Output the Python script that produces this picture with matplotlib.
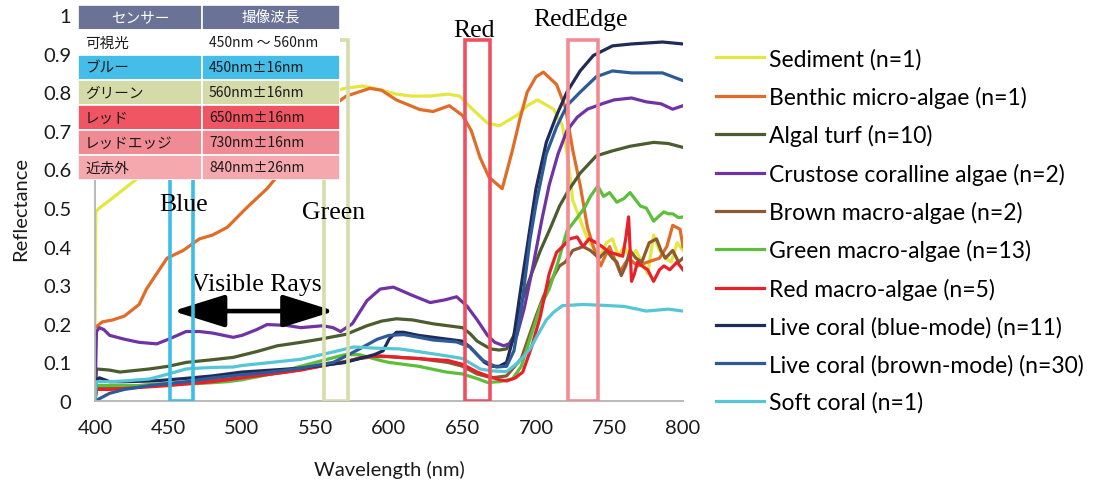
import matplotlib
matplotlib.use("Agg")
import matplotlib.pyplot as plt
from matplotlib.patches import Rectangle

plt.rcParams['font.family'] = ['Lato', 'Noto Sans CJK JP', 'DejaVu Sans']

# ---- spectra (wavelength nm, reflectance) ----
sed_wl = [400, 400.5, 403, 410, 420, 430, 450, 480, 510, 540, 560, 570, 582, 590, 605, 615, 628, 640, 648,
          657, 667, 675, 687, 694, 701, 712, 718, 722, 725, 730, 735, 740, 744, 748, 752, 756, 760, 764,
          768, 772, 776, 780, 784, 788, 792, 796, 800]
sed_r = [0.20, 0.49, 0.50, 0.52, 0.55, 0.58, 0.63, 0.70, 0.75, 0.78, 0.80, 0.81, 0.816, 0.81, 0.795, 0.79,
         0.79, 0.795, 0.79, 0.755, 0.72, 0.713, 0.74, 0.765, 0.78, 0.756, 0.713, 0.62, 0.52, 0.47, 0.42,
         0.39, 0.38, 0.41, 0.42, 0.375, 0.40, 0.37, 0.39, 0.36, 0.33, 0.43, 0.39, 0.37, 0.36, 0.41, 0.39]

bma_wl = [400, 405, 412, 420, 430, 435, 449, 460, 471, 480, 490, 503, 517, 530, 540, 550, 560, 571, 587,
          595, 605, 621, 630, 641, 650, 656, 662, 668, 677, 684, 689, 694, 700, 705, 714, 720, 725, 730,
          735, 739, 744, 750, 757, 763, 769, 776, 784, 789, 793, 798, 800]
bma_r = [0.19, 0.205, 0.21, 0.22, 0.25, 0.29, 0.37, 0.39, 0.42, 0.43, 0.45, 0.50, 0.55, 0.61, 0.66, 0.72,
         0.76, 0.79, 0.81, 0.805, 0.78, 0.755, 0.75, 0.765, 0.74, 0.70, 0.63, 0.58, 0.55, 0.65, 0.73, 0.80,
         0.84, 0.852, 0.82, 0.76, 0.65, 0.56, 0.45, 0.40, 0.35, 0.40, 0.335, 0.37, 0.35, 0.36, 0.37, 0.40,
         0.455, 0.445, 0.40]

turf_wl = [400, 401, 410, 417, 437, 450, 462, 480, 494, 510, 524, 540, 553, 571, 585, 595, 605, 616, 630,
           640, 650, 655, 660, 669, 675, 680, 685, 691, 697, 703, 710, 716, 722, 730, 741, 752, 764, 780,
           790, 800]
turf_r = [0.0, 0.083, 0.08, 0.075, 0.083, 0.09, 0.10, 0.107, 0.113, 0.128, 0.143, 0.152, 0.16, 0.173,
          0.195, 0.207, 0.213, 0.21, 0.2, 0.195, 0.19, 0.175, 0.155, 0.135, 0.132, 0.135, 0.17, 0.265, 0.33,
          0.39, 0.45, 0.505, 0.545, 0.59, 0.635, 0.648, 0.66, 0.67, 0.667, 0.657]

cca_wl = [400, 401, 403, 406, 410, 420, 430, 442, 450, 462, 471, 480, 494, 500, 510, 517, 530, 540, 555,
          562, 567, 575, 585, 594, 603, 615, 628, 638, 646, 653, 660, 667, 672, 678, 683, 687, 692, 698,
          704, 709, 715, 721, 728, 735, 745, 753, 765, 775, 785, 793, 800]
cca_r = [0.0, 0.18, 0.19, 0.185, 0.17, 0.16, 0.152, 0.148, 0.16, 0.18, 0.18, 0.176, 0.165, 0.17, 0.185,
         0.198, 0.196, 0.19, 0.195, 0.19, 0.18, 0.20, 0.26, 0.29, 0.295, 0.275, 0.255, 0.262, 0.27, 0.246,
         0.21, 0.17, 0.152, 0.143, 0.15, 0.17, 0.24, 0.35, 0.47, 0.56, 0.64, 0.70, 0.735, 0.756, 0.77,
         0.78, 0.785, 0.775, 0.77, 0.756, 0.765]

brm_wl = [400, 401, 430, 450, 470, 500, 530, 560, 580, 590, 600, 620, 640, 650, 660, 670, 680, 690, 700,
          705, 710, 716, 720, 725, 732, 737, 743, 748, 752, 755, 758, 761, 764, 768, 772, 777, 782, 785,
          788, 793, 797, 800]
brm_r = [0.0, 0.035, 0.04, 0.045, 0.05, 0.06, 0.075, 0.095, 0.11, 0.115, 0.115, 0.11, 0.10, 0.09, 0.07,
         0.06, 0.065, 0.11, 0.22, 0.27, 0.31, 0.35, 0.36, 0.39, 0.40, 0.39, 0.37, 0.39, 0.37, 0.36, 0.325,
         0.35, 0.39, 0.37, 0.36, 0.41, 0.42, 0.39, 0.37, 0.39, 0.36, 0.37]

grm_wl = [400, 401, 410, 430, 450, 470, 490, 500, 520, 540, 560, 570, 580, 594, 600, 610, 620, 639, 650,
          660, 667, 675, 684, 690, 695, 703, 709, 715, 721, 727, 733, 737, 742, 746, 750, 755, 760, 764,
          768, 771, 775, 778, 780, 784, 787, 790, 793, 797, 800]
grm_r = [0.0, 0.04, 0.04, 0.04, 0.045, 0.045, 0.05, 0.055, 0.07, 0.09, 0.11, 0.12, 0.12, 0.105, 0.10,
         0.095, 0.09, 0.075, 0.07, 0.058, 0.048, 0.05, 0.057, 0.09, 0.15, 0.245, 0.29, 0.36, 0.44, 0.47,
         0.50, 0.53, 0.557, 0.53, 0.54, 0.515, 0.525, 0.54, 0.52, 0.505, 0.50, 0.48, 0.466, 0.48, 0.49,
         0.485, 0.485, 0.475, 0.477]

rma_wl = [400, 401, 410, 430, 450, 480, 500, 520, 540, 560, 570, 580, 594, 610, 620, 640, 650, 660, 667,
          675, 680, 686, 691, 697, 703, 709, 714, 718, 723, 728, 732, 736, 741, 745, 750, 755, 759, 761,
          763, 765, 767, 769, 772, 776, 780, 784, 787, 791, 796, 800]
rma_r = [0.0, 0.03, 0.03, 0.035, 0.04, 0.05, 0.06, 0.07, 0.08, 0.095, 0.10, 0.112, 0.117, 0.112, 0.11,
         0.105, 0.095, 0.075, 0.065, 0.055, 0.052, 0.06, 0.075, 0.14, 0.22, 0.33, 0.385, 0.40, 0.42, 0.425,
         0.40, 0.42, 0.41, 0.40, 0.385, 0.38, 0.375, 0.42, 0.477, 0.31, 0.33, 0.36, 0.35, 0.34, 0.31, 0.34,
         0.35, 0.34, 0.36, 0.34]

lcb_wl = [400, 401, 403, 410, 420, 440, 460, 480, 500, 520, 540, 560, 570, 580, 590, 596, 600, 605, 610,
          620, 630, 640, 650, 655, 660, 665, 670, 675, 680, 685, 690, 696, 700, 707, 714, 721, 730, 739,
          752, 765, 786, 800]
lcb_r = [0.0, 0.055, 0.06, 0.05, 0.05, 0.052, 0.058, 0.065, 0.075, 0.08, 0.085, 0.095, 0.10, 0.11, 0.12,
         0.13, 0.16, 0.178, 0.178, 0.17, 0.165, 0.16, 0.155, 0.14, 0.12, 0.10, 0.09, 0.09, 0.10, 0.17,
         0.30, 0.45, 0.55, 0.67, 0.74, 0.80, 0.855, 0.895, 0.92, 0.925, 0.93, 0.925]

lcr_wl = [400, 405, 410, 420, 437, 462, 480, 500, 517, 540, 562, 570, 580, 592, 600, 610, 616, 630, 646,
          655, 660, 664, 673, 680, 685, 690, 696, 700, 707, 714, 721, 730, 741, 752, 765, 786, 800]
lcr_r = [0.0, 0.01, 0.02, 0.03, 0.04, 0.05, 0.06, 0.068, 0.074, 0.085, 0.10, 0.115, 0.135, 0.16, 0.17,
         0.172, 0.168, 0.158, 0.153, 0.14, 0.12, 0.105, 0.088, 0.09, 0.13, 0.24, 0.42, 0.51, 0.64, 0.71,
         0.765, 0.80, 0.84, 0.855, 0.85, 0.85, 0.83]

soft_wl = [400, 401, 405, 410, 420, 437, 450, 462, 470, 480, 494, 500, 520, 540, 562, 576, 590, 607, 620,
           639, 650, 662, 670, 680, 688, 696, 701, 707, 712, 718, 732, 745, 760, 775, 790, 800]
soft_r = [0.0, 0.05, 0.05, 0.05, 0.052, 0.057, 0.07, 0.083, 0.085, 0.087, 0.088, 0.092, 0.10, 0.108,
          0.127, 0.14, 0.137, 0.135, 0.128, 0.117, 0.11, 0.083, 0.078, 0.076, 0.10, 0.135, 0.17, 0.21,
          0.23, 0.247, 0.25, 0.248, 0.245, 0.233, 0.238, 0.233]

series_labels = ['Sediment (n=1)', 'Benthic micro-algae (n=1)', 'Algal turf (n=10)',
                 'Crustose coralline algae (n=2)', 'Brown macro-algae (n=2)', 'Green macro-algae (n=13)',
                 'Red macro-algae (n=5)', 'Live coral (blue-mode) (n=11)', 'Live coral (brown-mode) (n=30)',
                 'Soft coral (n=1)']
series_colors = ['#e6e640', '#e06c28', '#4b5c2e', '#7033a3', '#8b5a32', '#5cbf3c', '#e8202a',
                 '#1f2b58', '#2d5a98', '#55c6d6']
series_data = [(sed_wl, sed_r), (bma_wl, bma_r), (turf_wl, turf_r), (cca_wl, cca_r), (brm_wl, brm_r),
               (grm_wl, grm_r), (rma_wl, rma_r), (lcb_wl, lcb_r), (lcr_wl, lcr_r), (soft_wl, soft_r)]

# band boxes: name, from nm, to nm, colour
band_names = ['Blue', 'Green', 'Red', 'RedEdge']
band_lo = [451, 556, 652, 722]
band_hi = [467, 572, 669, 742]
band_colors = ['#3ebde6', '#d6dcaa', '#ee5060', '#f28c94']
band_label_x = [460.5, 562.5, 658, 730]
band_label_y = [0.51, 0.49, 0.96, 0.99]

# table of sensor bands
tab_names = ['センサー', '可視光', 'ブルー', 'グリーン', 'レッド', 'レッドエッジ', '近赤外']
tab_values = ['撮像波長', '450nm ～ 560nm', '450nm±16nm', '560nm±16nm', '650nm±16nm',
              '730nm±16nm', '840nm±26nm']
tab_colors = ['#6a7296', '#ffffff', '#44bde8', '#d5dba8', '#ef5562', '#f08a93', '#f5a9af']

yticks = [0, 0.1, 0.2, 0.3, 0.4, 0.5, 0.6, 0.7, 0.8, 0.9, 1]
ytick_labels = ['0', '0.1', '0.2', '0.3', '0.4', '0.5', '0.6', '0.7', '0.8', '0.9', '1']
xticks = [400, 450, 500, 550, 600, 650, 700, 750, 800]

W, H = 1101, 489
fig = plt.figure(figsize=(W / 100, H / 100), dpi=100)
ax = fig.add_axes([95 / W, 1 - 402 / H, (683 - 95) / W, (402 - 16) / H])

handles = []
for (wl, r), lab, col in zip(series_data, series_labels, series_colors):
    h, = ax.plot(wl, r, color=col, lw=2.3, label=lab, solid_joinstyle='round')
    handles.append(h)

for lo, hi, col in zip(band_lo, band_hi, band_colors):
    ax.add_patch(Rectangle((lo, 0.0), hi - lo, 0.935, fill=False, ec=col, lw=2.6, zorder=5))

for name, x, y in zip(band_names, band_label_x, band_label_y):
    ax.text(x, y, name, family='Liberation Serif', fontsize=18.5, ha='center', va='center', zorder=6)

ax.text(510, 0.303, 'Visible Rays', family='Liberation Serif', fontsize=18.5, ha='center', va='center')
ax.annotate('', xy=(563, 0.233), xytext=(453, 0.233),
            arrowprops=dict(arrowstyle='<|-|>,head_length=1.6,head_width=0.5', color='black', lw=3.3,
                            shrinkA=0, shrinkB=0, mutation_scale=20))

ax.set_xlim(400, 800)
ax.set_ylim(0, 1)
ax.set_xticks(xticks)
ax.set_yticks(yticks)
ax.set_yticklabels(ytick_labels)
ax.tick_params(length=0, labelsize=14.5, colors='#1a1a1a')
ax.tick_params(axis='y', pad=17)
ax.tick_params(axis='x', pad=13)
for s in ['top', 'right']:
    ax.spines[s].set_visible(False)
for s in ['left', 'bottom']:
    ax.spines[s].set_color('#b4b4b4')
    ax.spines[s].set_linewidth(1.3)
ax.set_xlabel('Wavelength (nm)', fontsize=14.5, labelpad=17, color='#1a1a1a')
ax.set_ylabel('Reflectance', fontsize=14.5, labelpad=10, color='#1a1a1a')

fig.legend(handles=handles, loc='upper left', bbox_to_anchor=(716 / W, 1 - 49 / H), frameon=False,
           fontsize=16.5, handlelength=2.1, handletextpad=0.2, labelspacing=0.71, borderpad=0,
           borderaxespad=0)

# sensor table drawn over the top-left of the plot
tab = fig.add_axes([78 / W, 1 - 181 / H, 262 / W, 175 / H])
tab.set_xlim(0, 262)
tab.set_ylim(175, 0)
tab.axis('off')
row_h = 25
split = 124
for i, (nm, val, col) in enumerate(zip(tab_names, tab_values, tab_colors)):
    y0 = i * row_h
    tab.add_patch(Rectangle((0, y0), split, row_h, fc=col, ec='white', lw=1.2))
    tab.add_patch(Rectangle((split, y0), 262 - split, row_h, fc=col, ec='white', lw=1.2))
    if i == 0:
        tab.text(split / 2, y0 + row_h / 2, nm, color='white', fontsize=10.5, ha='center', va='center',
                 family='Noto Sans CJK JP')
        tab.text((split + 262) / 2, y0 + row_h / 2, val, color='white', fontsize=10.5, ha='center',
                 va='center', family='Noto Sans CJK JP')
    else:
        tab.text(7, y0 + row_h / 2, nm, color='#1a1a1a', fontsize=10.5, ha='left', va='center',
                 family='Noto Sans CJK JP')
        tab.text(split + 7, y0 + row_h / 2, val, color='#1a1a1a', fontsize=10, ha='left', va='center',
                 family='Noto Sans CJK JP')

fig.savefig('out.png', dpi=100)
